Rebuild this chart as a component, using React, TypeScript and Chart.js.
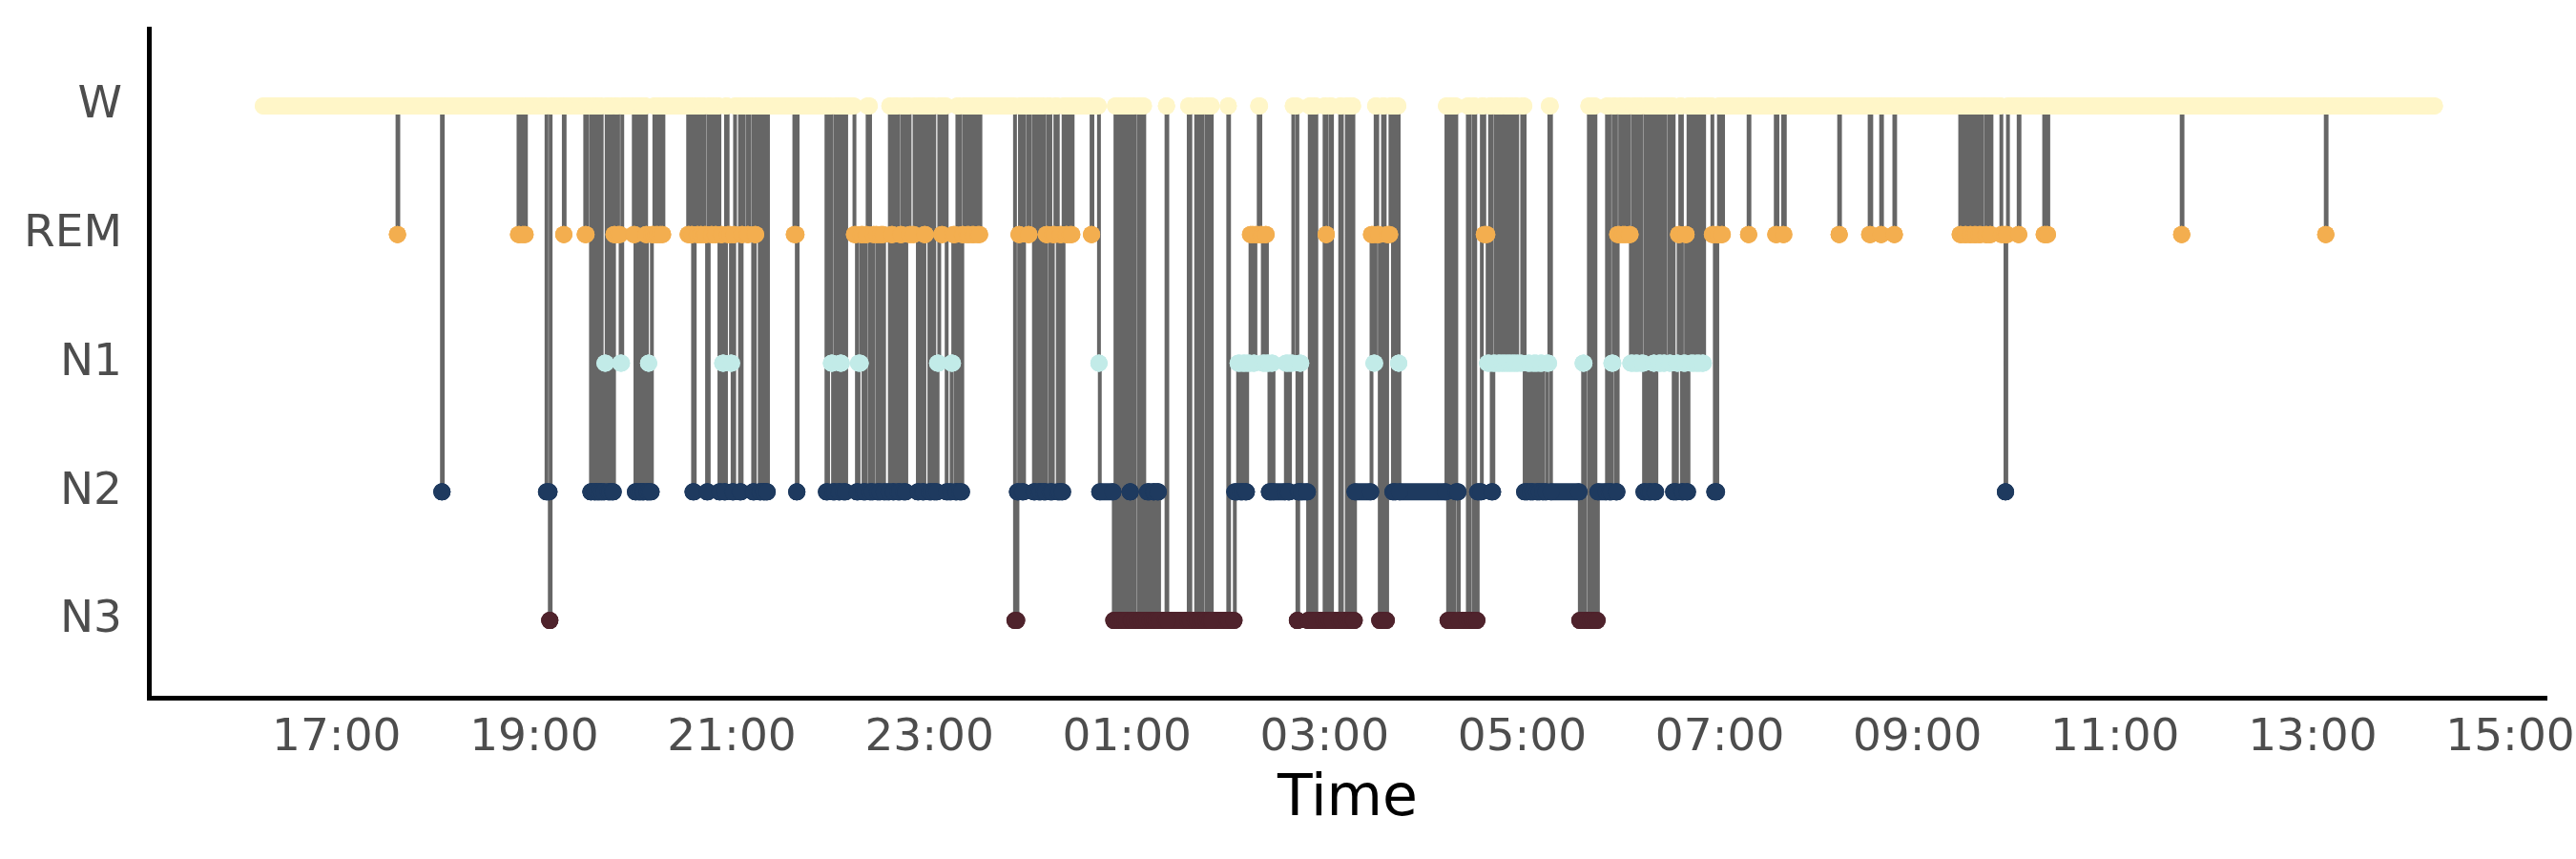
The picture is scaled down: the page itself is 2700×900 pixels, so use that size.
import { useEffect, useRef } from 'react';
import { Chart, registerables } from 'chart.js';

Chart.register(...registerables);

// y position of each stage (bottom to top)
const stageLabels = ['N3', 'N2', 'N1', 'REM', 'W'];
const stageColors: Record<string, string> = {
  W: '#FFF6C8',
  REM: '#F3AE4F',
  N1: '#C2EBE8',
  N2: '#1E3A5F',
  N3: '#4F232C',
};

// Hypnogram: minute of day (from 00:00 of the first day) at which each stage run begins
const changeMinutes = [
  975.5, 1057, 1057.5, 1084, 1084.5, 1130.5, 1131.5, 1133, 1135, 1147.5,
  1149.5, 1150, 1158, 1158.5, 1171, 1172, 1174.5, 1175, 1176.5, 1177.5,
  1178.5, 1180, 1181, 1183, 1184, 1185, 1186.5, 1187.5, 1188.5, 1189.5,
  1191, 1192.5, 1193.5, 1200.5, 1201.5, 1202.5, 1203.5, 1205, 1206, 1207,
  1208, 1208.5, 1209.5, 1210, 1211.5, 1213, 1214, 1215.5, 1216.5, 1218.5,
  1233.5, 1234.5, 1235.5, 1236.5, 1237.5, 1239, 1240, 1241, 1242, 1243.5,
  1245, 1246, 1247.5, 1248.5, 1250, 1251, 1252.5, 1253.5, 1254.5, 1255.5,
  1256.5, 1257.5, 1259.5, 1260.5, 1261.5, 1262, 1265, 1266, 1267, 1269.5,
  1270.5, 1273, 1274, 1275, 1277, 1278, 1279.5, 1280, 1281, 1282,
  1298, 1299.5, 1300, 1317.5, 1318.5, 1320.5, 1321.5, 1323, 1325, 1326,
  1327, 1328, 1329.5, 1334.5, 1336, 1337, 1338.5, 1340, 1341.5, 1342.5,
  1344, 1346, 1348.5, 1350.5, 1352.5, 1356, 1357, 1358, 1359, 1361,
  1362.5, 1363.5, 1364.5, 1366, 1368, 1371, 1373, 1374, 1376, 1377,
  1378, 1380, 1381.5, 1383, 1385, 1386, 1387.5, 1388.5, 1390.5, 1393.5,
  1394.5, 1396, 1397, 1398.5, 1400, 1401, 1403, 1404.5, 1406, 1407.5,
  1409.5, 1411, 1432, 1433.5, 1434.5, 1435, 1436.5, 1437.5, 1440, 1441,
  1443.5, 1444.5, 1446.5, 1448, 1449.5, 1451, 1452, 1453.5, 1455, 1456.5,
  1458, 1459.5, 1460.5, 1461.5, 1463, 1464, 1465.5, 1467, 1478.5, 1479,
  1483, 1483.5, 1492, 1493, 1494, 1495.5, 1496.5, 1498, 1499, 1500.5,
  1502, 1502.5, 1503.5, 1504.5, 1507, 1508, 1509.5, 1510.5, 1512.5, 1514,
  1516, 1517, 1518.5, 1519.5, 1524, 1524.5, 1537.5, 1538.5, 1542, 1543,
  1545, 1546, 1548.5, 1549.5, 1551, 1551.5, 1561.5, 1562, 1565.5, 1567.5,
  1569, 1570.5, 1572, 1573, 1575, 1577, 1578, 1580, 1581, 1582.5,
  1584, 1585, 1586.5, 1588, 1589, 1596.5, 1598, 1599, 1601, 1603.5,
  1604, 1605, 1606, 1610, 1611, 1612, 1614, 1615, 1620, 1621,
  1621.5, 1623.5, 1624.5, 1629.5, 1630.5, 1633.5, 1634.5, 1636.5, 1637.5, 1638.5,
  1648.5, 1650, 1651, 1652, 1653.5, 1655.5, 1656.5, 1658, 1660, 1661.5,
  1663.5, 1665, 1665.5, 1694, 1695, 1696.5, 1697.5, 1699, 1700, 1701.5,
  1707, 1708, 1710.5, 1711.5, 1713, 1715.5, 1717, 1719, 1720.5, 1721.5,
  1722.5, 1724, 1725.5, 1727, 1728, 1730, 1731, 1733, 1734, 1736,
  1737, 1740, 1741.5, 1743.5, 1745, 1747, 1749, 1751, 1752.5, 1755,
  1756.5, 1757.5, 1775, 1777, 1778, 1780.5, 1781.5, 1783.5, 1784.5, 1786,
  1791.5, 1793, 1794.5, 1795.5, 1797, 1798, 1799.5, 1801, 1803, 1805,
  1806, 1807.5, 1809, 1810.5, 1812.5, 1814, 1815, 1817, 1818.5, 1820,
  1820.5, 1821.5, 1823, 1824.5, 1826, 1827, 1829.5, 1830.5, 1832, 1834,
  1835, 1836, 1837, 1838, 1839.5, 1840, 1841, 1842.5, 1844.5, 1846,
  1848, 1849.5, 1850.5, 1855.5, 1857, 1858.5, 1859.5, 1861, 1862, 1877.5,
  1878, 1894, 1895, 1898.5, 1899.5, 1932.5, 1933, 1951, 1952, 1958,
  1958.5, 1966, 1966.5, 2006, 2007, 2009, 2010, 2012, 2013, 2014.5,
  2016, 2017.5, 2019, 2021.5, 2022.5, 2024, 2025, 2031, 2033.5, 2034,
  2035, 2041.5, 2042, 2057, 2058, 2058.5, 2059.5, 2140.5, 2141, 2228,
  2228.5,
];

// Stage of each run, matching changeMinutes one to one
const changeStages = [
  'W', 'REM', 'W', 'N2', 'W', 'REM', 'W', 'REM', 'W', 'N2',
  'N3', 'W', 'REM', 'W', 'REM', 'W', 'N2', 'W', 'N2', 'W',
  'N2', 'W', 'N2', 'N1', 'W', 'N2', 'W', 'N2', 'REM', 'W',
  'REM', 'N1', 'W', 'REM', 'N2', 'W', 'N2', 'W', 'N2', 'W',
  'REM', 'N2', 'N1', 'N2', 'REM', 'W', 'REM', 'W', 'REM', 'W',
  'REM', 'W', 'REM', 'N2', 'W', 'REM', 'W', 'REM', 'W', 'REM',
  'N2', 'W', 'REM', 'W', 'REM', 'W', 'N2', 'REM', 'N1', 'N2',
  'W', 'REM', 'N1', 'N2', 'REM', 'W', 'N2', 'REM', 'W', 'REM',
  'W', 'N2', 'REM', 'W', 'N2', 'W', 'N2', 'W', 'N2', 'W',
  'REM', 'N2', 'W', 'N2', 'W', 'N1', 'N2', 'W', 'N2', 'N1',
  'W', 'N2', 'W', 'REM', 'N2', 'N1', 'REM', 'N2', 'REM', 'W',
  'N2', 'REM', 'N2', 'REM', 'N2', 'W', 'REM', 'N2', 'W', 'N2',
  'REM', 'W', 'N2', 'W', 'REM', 'W', 'N2', 'W', 'N2', 'REM',
  'W', 'N2', 'W', 'N2', 'N1', 'W', 'REM', 'W', 'N2', 'N1',
  'REM', 'N2', 'W', 'N2', 'REM', 'W', 'REM', 'W', 'REM', 'W',
  'REM', 'W', 'N3', 'N2', 'REM', 'W', 'N2', 'W', 'REM', 'W',
  'N2', 'W', 'N2', 'W', 'N2', 'REM', 'W', 'N2', 'REM', 'W',
  'N2', 'REM', 'N2', 'W', 'REM', 'W', 'REM', 'W', 'REM', 'W',
  'N1', 'N2', 'N3', 'W', 'N3', 'W', 'N3', 'W', 'N3', 'W',
  'N2', 'N3', 'W', 'N3', 'W', 'N3', 'W', 'N3', 'N2', 'N3',
  'N2', 'N3', 'N2', 'N3', 'W', 'N3', 'W', 'N3', 'W', 'N3',
  'W', 'N3', 'W', 'N3', 'W', 'N3', 'W', 'N3', 'N2', 'N1',
  'N2', 'N1', 'N2', 'N1', 'REM', 'N1', 'REM', 'W', 'REM', 'N1',
  'REM', 'N1', 'N2', 'N1', 'N2', 'N1', 'N2', 'N1', 'W', 'N3',
  'N2', 'N1', 'N2', 'N3', 'W', 'N3', 'W', 'N3', 'W', 'REM',
  'N3', 'W', 'N3', 'W', 'N3', 'W', 'N3', 'W', 'N3', 'N2',
  'REM', 'N1', 'W', 'REM', 'N3', 'W', 'N3', 'REM', 'W', 'N2',
  'W', 'N1', 'N2', 'W', 'N3', 'W', 'N3', 'W', 'N2', 'N3',
  'W', 'N3', 'W', 'N3', 'N2', 'W', 'REM', 'N1', 'W', 'N2',
  'N1', 'W', 'N1', 'W', 'N1', 'W', 'N1', 'W', 'N1', 'W',
  'N1', 'W', 'N2', 'N1', 'N2', 'N1', 'N2', 'N1', 'N2', 'N1',
  'W', 'N2', 'N3', 'N1', 'N3', 'W', 'N3', 'W', 'N3', 'N2',
  'W', 'N2', 'N1', 'W', 'N2', 'REM', 'W', 'REM', 'W', 'REM',
  'N1', 'W', 'N1', 'W', 'N1', 'N2', 'W', 'N2', 'W', 'N1',
  'N2', 'W', 'N1', 'W', 'N1', 'W', 'N1', 'W', 'N2', 'N1',
  'REM', 'W', 'N2', 'N1', 'REM', 'N2', 'W', 'N1', 'W', 'N1',
  'W', 'N1', 'W', 'REM', 'N2', 'REM', 'W', 'REM', 'W', 'REM',
  'W', 'REM', 'W', 'REM', 'W', 'REM', 'W', 'REM', 'W', 'REM',
  'W', 'REM', 'W', 'REM', 'W', 'REM', 'W', 'REM', 'W', 'REM',
  'W', 'REM', 'W', 'REM', 'W', 'REM', 'W', 'REM', 'N2', 'REM',
  'W', 'REM', 'W', 'REM', 'W', 'REM', 'W', 'REM', 'W', 'REM',
  'W',
];

const recordEndMinute = 2294.5; // end of the last 30 s epoch
const epochMinutes = 0.5;

// x-axis ticks (minutes from first midnight): 17:00 ... 15:00 next day
const tickMinutes = [1020, 1140, 1260, 1380, 1500, 1620, 1740, 1860, 1980, 2100, 2220, 2340];
const xMin = 906;
const xMax = 2362;

const FONT = 'DejaVu Sans';

function fmtTime(m: number): string {
  const h = Math.floor(m / 60) % 24;
  const mm = Math.round(m % 60);
  return String(h).padStart(2, '0') + ':' + String(mm).padStart(2, '0');
}

export default function App() {
  const canvasRef = useRef<HTMLCanvasElement | null>(null);

  useEffect(() => {
    const canvas = canvasRef.current;
    if (!canvas) return;

    const runs = changeMinutes.map((start, i) => {
      const end = i + 1 < changeMinutes.length ? changeMinutes[i + 1] : recordEndMinute;
      return { start, last: end - epochMinutes, stage: changeStages[i] };
    });

    const linePoints: { x: number; y: number }[] = runs.map((r) => ({
      x: r.start,
      y: stageLabels.indexOf(r.stage),
    }));
    const lastRun = runs[runs.length - 1];
    linePoints.push({ x: lastRun.last, y: stageLabels.indexOf(lastRun.stage) });

    const stageDatasets = ['W', 'REM', 'N1', 'N2', 'N3'].map((stage) => {
      const y = stageLabels.indexOf(stage);
      const data: { x: number; y: number | null }[] = [];
      runs
        .filter((r) => r.stage === stage)
        .forEach((r) => {
          data.push({ x: r.start, y });
          data.push({ x: r.last, y });
          data.push({ x: r.last + 0.25, y: null });
        });
      return {
        label: stage,
        data,
        borderColor: stageColors[stage],
        backgroundColor: stageColors[stage],
        borderWidth: 18,
        borderCapStyle: 'round' as const,
        borderJoinStyle: 'round' as const,
        pointRadius: 9,
        pointBorderWidth: 0,
        pointBackgroundColor: stageColors[stage],
        pointHoverRadius: 9,
        spanGaps: false,
        fill: false,
        tension: 0,
        order: 0,
      };
    });

    const chart = new Chart(canvas, {
      type: 'line',
      data: {
        datasets: [
          ...stageDatasets,
          {
            label: 'hypnogram',
            data: linePoints,
            borderColor: '#666666',
            borderWidth: 4,
            stepped: 'before',
            pointRadius: 0,
            fill: false,
            order: 5,
          },
        ] as any,
      },
      options: {
        animation: false,
        responsive: false,
        devicePixelRatio: 1,
        events: [],
        layout: { autoPadding: false, padding: { top: 30, right: 31, bottom: 0, left: 0 } },
        plugins: {
          legend: { display: false },
          tooltip: { enabled: false },
        },
        scales: {
          x: {
            type: 'linear',
            min: xMin,
            max: xMax,
            afterBuildTicks: (s: any) => {
              s.ticks = tickMinutes.map((v) => ({ value: v }));
            },
            afterFit: (s: any) => {
              s.height = 169;
              s.paddingLeft = 0;
              s.paddingRight = 0;
            },
            grid: { display: false, drawTicks: false },
            border: { display: true, color: '#000000', width: 5 },
            ticks: {
              autoSkip: false,
              maxRotation: 0,
              padding: 15,
              color: '#4d4d4d',
              font: { family: FONT, size: 47 },
              callback: (v: any) => fmtTime(Number(v)),
            },
            title: {
              display: true,
              text: 'Time',
              color: '#000000',
              font: { family: FONT, size: 60 },
              padding: { top: 0, bottom: 26 },
            },
          },
          y: {
            type: 'linear',
            min: -0.6,
            max: 4.6,
            afterBuildTicks: (s: any) => {
              s.ticks = stageLabels.map((_, i) => ({ value: i }));
            },
            afterFit: (s: any) => {
              s.width = 156;
              s.paddingTop = 0;
              s.paddingBottom = 0;
            },
            grid: { display: false, drawTicks: false },
            border: { display: true, color: '#000000', width: 5 },
            ticks: {
              padding: 28,
              color: '#4d4d4d',
              font: { family: FONT, size: 47 },
              callback: (v: any) => stageLabels[Math.round(Number(v))] ?? '',
            },
          },
        },
      } as any,
    });

    return () => chart.destroy();
  }, []);

  return (
    <div style={{ position: 'absolute', left: 0, top: 0, width: 2700, height: 900, background: '#ffffff' }}>
      <canvas ref={canvasRef} width={2700} height={900} style={{ display: 'block', width: 2700, height: 900 }} />
    </div>
  );
}
